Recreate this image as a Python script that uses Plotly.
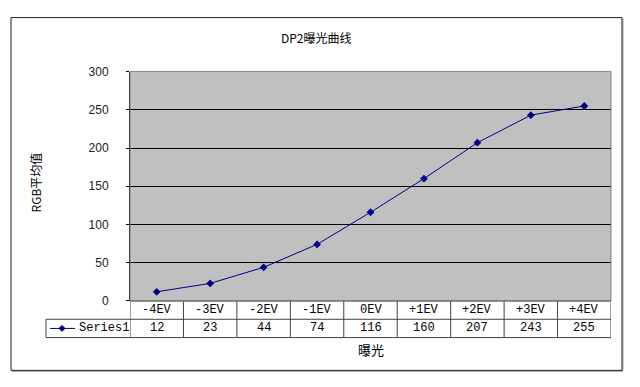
import plotly.graph_objects as go

# ---- data ----
categories = ["-4EV", "-3EV", "-2EV", "-1EV", "0EV", "+1EV", "+2EV", "+3EV", "+4EV"]
series_name = "Series1"
values = [12, 23, 44, 74, 116, 160, 207, 243, 255]
y_ticks = [0, 50, 100, 150, 200, 250, 300]
title = "DP2曝光曲线"
x_title = "曝光"
y_title = "RGB平均值"

W, H = 640, 387
def px(x): return x / W
def py(y): return 1 - y / H

PL, PR, PT, PB = 130, 611, 67, 305   # plot area in pixels
ROW1_B, ROW2_B = 324, 343            # data table row bottoms
LEG_L = 46
BL, BR, BT, BB = 11, 622, 11, 377    # chart border

NAVY = "#000080"
CJK = "Noto Sans CJK SC, DejaVu Sans, sans-serif"
TBL = "Liberation Mono, Noto Sans CJK SC, monospace"
TICK = "Liberation Sans, Arial, sans-serif"

fig = go.Figure()
fig.add_trace(go.Scatter(
    x=list(range(len(categories))), y=values, mode="lines+markers",
    line=dict(color=NAVY, width=1),
    marker=dict(symbol="diamond", size=6, color=NAVY),
    name=series_name, showlegend=False, hoverinfo="x+y",
))

shapes = []
annotations = []

# chart border + slight shadow
shapes.append(dict(type="line", xref="paper", yref="paper",
                   x0=px(BL + 1), x1=px(BR + 1), y0=py(BB + 1), y1=py(BB + 1),
                   line=dict(color="#A0A0A0", width=1), layer="below"))
shapes.append(dict(type="line", xref="paper", yref="paper",
                   x0=px(BR + 1), x1=px(BR + 1), y0=py(BT + 1), y1=py(BB + 1),
                   line=dict(color="#A0A0A0", width=1), layer="below"))
shapes.append(dict(type="rect", xref="paper", yref="paper",
                   x0=px(BL), x1=px(BR), y0=py(BB), y1=py(BT),
                   line=dict(color="#202020", width=1), layer="below"))

# data table horizontal lines
for (xl, yy) in [(PL, PB), (LEG_L, ROW1_B), (LEG_L, ROW2_B)]:
    shapes.append(dict(type="line", xref="paper", yref="paper",
                       x0=px(xl), x1=px(PR), y0=py(yy), y1=py(yy),
                       line=dict(color="#404040", width=1)))
# table vertical lines (category boundaries on the x scale)
n = len(categories)
for i in range(n + 1):
    shapes.append(dict(type="line", xref="x", yref="paper",
                       x0=i - 0.5, x1=i - 0.5, y0=py(ROW2_B), y1=py(PB),
                       line=dict(color="#404040", width=1)))
# legend cell left edge
shapes.append(dict(type="line", xref="paper", yref="paper",
                   x0=px(LEG_L), x1=px(LEG_L), y0=py(ROW2_B), y1=py(ROW1_B),
                   line=dict(color="#404040", width=1)))
# legend key line and diamond
ly = (ROW1_B + ROW2_B) / 2
shapes.append(dict(type="line", xref="paper", yref="paper",
                   x0=px(50), x1=px(75), y0=py(ly), y1=py(ly),
                   line=dict(color=NAVY, width=1)))
cx, r = 62, 3
shapes.append(dict(type="path", xref="paper", yref="paper",
                   path=f"M {px(cx-r)} {py(ly)} L {px(cx)} {py(ly-r)} L {px(cx+r)} {py(ly)} L {px(cx)} {py(ly+r)} Z",
                   fillcolor=NAVY, line=dict(color=NAVY, width=1)))
annotations.append(dict(xref="paper", yref="paper", x=px(77), y=py(ly),
                        text=series_name, showarrow=False, xanchor="left",
                        yanchor="middle", font=dict(size=12, color="black", family=TBL)))

# table text
for i, (c, v) in enumerate(zip(categories, values)):
    annotations.append(dict(xref="x", yref="paper", x=i, y=py((PB + ROW1_B) / 2),
                            text=c, showarrow=False, yanchor="middle",
                            font=dict(size=12, color="black", family=TBL)))
    annotations.append(dict(xref="x", yref="paper", x=i, y=py((ROW1_B + ROW2_B) / 2),
                            text=str(v), showarrow=False, yanchor="middle",
                            font=dict(size=12, color="black", family=TBL)))

# titles
annotations.append(dict(xref="paper", yref="paper", x=px((BL + BR) / 2), y=py(32), text=title,
                        showarrow=False, yanchor="middle",
                        font=dict(size=12, color="black", family=CJK)))
annotations.append(dict(xref="paper", yref="paper", x=px((PL + PR) / 2), y=py(355),
                        text=x_title, showarrow=False, yanchor="middle",
                        font=dict(size=13, color="black", family=CJK)))
annotations.append(dict(xref="paper", yref="paper", x=px(35), y=py(182),
                        text=y_title, showarrow=False, textangle=-90,
                        xanchor="center", yanchor="middle",
                        font=dict(size=12, color="black", family=CJK)))

fig.update_layout(
    width=W, height=H,
    margin=dict(l=0, r=0, t=0, b=0),
    paper_bgcolor="white",
    plot_bgcolor="#C0C0C0",
    xaxis=dict(domain=[px(PL), px(PR)], range=[-0.5, n - 0.5],
               showticklabels=False, showgrid=False, zeroline=False,
               showline=False, ticks="", fixedrange=True),
    yaxis=dict(domain=[py(PB), py(PT)], range=[0, 300], tickvals=y_ticks,
               showgrid=True, gridcolor="black", gridwidth=1,
               zeroline=False, showline=True, linecolor="black", linewidth=1,
               ticks="outside", ticklen=3, tickcolor="black",
               ticklabelstandoff=15,
               tickfont=dict(size=12, color="#222222", family=TICK),
               mirror=False, fixedrange=True),
    shapes=shapes,
    annotations=annotations,
)
# plot area border
fig.add_shape(type="rect", xref="paper", yref="paper",
              x0=px(PL), x1=px(PR), y0=py(PB), y1=py(PT),
              line=dict(color="#808080", width=1))

fig.write_html("out.html")
